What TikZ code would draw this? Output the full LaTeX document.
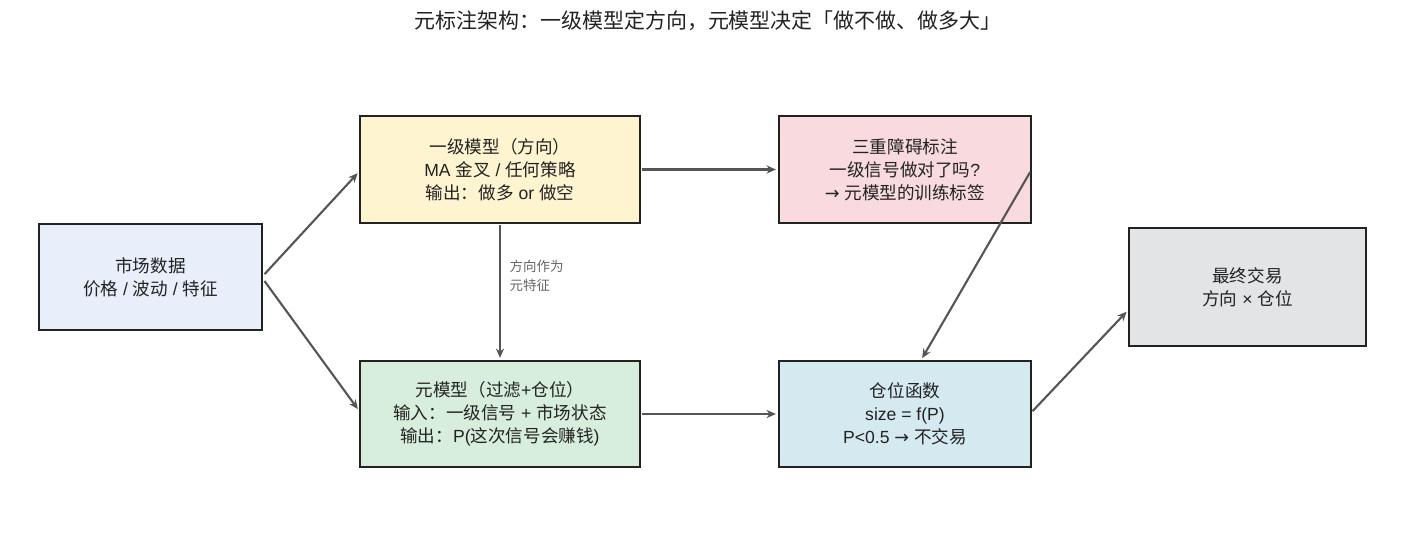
\documentclass[tikz,border=0pt]{standalone}
\usepackage{fontspec}
\setmainfont{Liberation Sans}
\newfontfamily\latinfont{Liberation Sans}
\newfontfamily\cjkfont{Noto Sans CJK SC}
\newfontfamily\arrowfont{DejaVu Sans}
\usetikzlibrary{calc,arrows.meta}
% switch to the CJK family for Han characters and full-width punctuation
\XeTeXinterchartokenstate=1
\newXeTeXintercharclass\cjkclass
\count255="3000
\loop\XeTeXcharclass\count255=\cjkclass\ifnum\count255<"303F\advance\count255 by 1\repeat
\count255="4E00
\loop\XeTeXcharclass\count255=\cjkclass\ifnum\count255<"9FFF\advance\count255 by 1\repeat
\count255="FF00
\loop\XeTeXcharclass\count255=\cjkclass\ifnum\count255<"FFEF\advance\count255 by 1\repeat
\XeTeXinterchartoks 0 \cjkclass = {\cjkfont}
\XeTeXinterchartoks 4095 \cjkclass = {\cjkfont}
\XeTeXinterchartoks \cjkclass 0 = {\latinfont}
\XeTeXinterchartoks \cjkclass 4095 = {\latinfont}
\newcommand\toarrow{{\arrowfont\fontsize{15}{19.6}\selectfont →}}
\definecolor{inkline}{HTML}{222222}
\definecolor{flowgray}{HTML}{555555}
\definecolor{notegray}{HTML}{666666}
\definecolor{fillmarket}{HTML}{E8EFFB}
\definecolor{fillbase}{HTML}{FFF4D0}
\definecolor{filllabel}{HTML}{F8DADF}
\definecolor{fillmeta}{HTML}{D8EEDC}
\definecolor{fillsize}{HTML}{D4EAF0}
\definecolor{filltrade}{HTML}{E3E4E6}
\tikzset{
	stagebox/.style={draw=inkline, line width=1.3pt, align=center, text=inkline,
		font=\fontsize{15}{19.6}\selectfont, inner sep=0pt},
	flow/.style={draw=flowgray, line width=1.8pt, -{Stealth[length=8pt,width=7pt]}, shorten >=2pt, shorten <=1pt}
}

\begin{document}
\begin{tikzpicture}[x=0.03cm, y=-0.03cm]
			%%%%% START %%%%%
			
			\useasboundingbox (0, 0) rectangle (1418, 538);
			
			\node[text=inkline] (title) at (708, 21) {\fontsize{17.9}{20}\selectfont 元标注架构：一级模型定方向，元模型决定「做不做、做多大」};
			
			\node[stagebox, fill=fillmarket, minimum width=223*0.03cm, minimum height=106*0.03cm] (market) at (150.5, 277) {市场数据\\价格 / 波动 / 特征};
			\node[stagebox, fill=fillbase, minimum width=280*0.03cm, minimum height=107*0.03cm] (base) at (500, 169.5) {一级模型（方向）\\MA 金叉 / 任何策略\\输出：做多 or 做空};
			\node[stagebox, fill=filllabel, minimum width=252*0.03cm, minimum height=107*0.03cm] (triple) at (905, 169.5) {三重障碍标注\\一级信号做对了吗?\\\toarrow{} 元模型的训练标签};
			\node[stagebox, fill=fillmeta, minimum width=280*0.03cm, minimum height=106*0.03cm] (meta) at (500, 414) {元模型（过滤+仓位）\\输入：一级信号 + 市场状态\\输出：P(这次信号会赚钱)};
			\node[stagebox, fill=fillsize, minimum width=252*0.03cm, minimum height=106*0.03cm] (sizing) at (905, 414) {仓位函数\\size = f(P)\\P<0.5 \toarrow{} 不交易};
			\node[stagebox, fill=filltrade, minimum width=237*0.03cm, minimum height=118*0.03cm] (trade) at (1247.5, 287) {最终交易\\方向 × 仓位};
			
			\draw[flow] ($(market.east)+(1, -2)$) -- ($(base.west)+(0, 2)$);
			\draw[flow] ($(market.east)+(1, 3)$) -- ($(meta.west)+(0, -3)$);
			\draw[flow] (base.east) -- (triple.west);
			\draw[flow] (base.south) -- node[pos=0.38, right, xshift=4pt, align=left, text=notegray, font=\fontsize{11.5}{16.2}\selectfont] (note) {方向作为\\元特征} (meta.north);
			\draw[flow] (meta.east) -- (sizing.west);
			\draw[flow] ($(triple.east)+(-1, 1.5)$) -- ($(sizing.north)+(16, 0)$);
			\draw[flow] ($(sizing.east)+(0, -2)$) -- ($(trade.west)+(0, 23)$);
			
			%%%%% END %%%%%
		\end{tikzpicture}
\end{document}
